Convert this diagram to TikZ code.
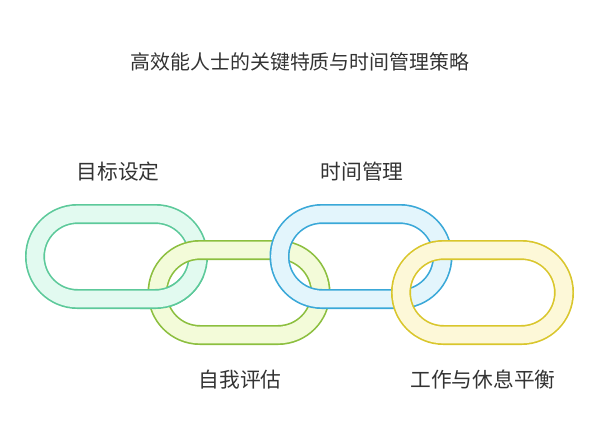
\documentclass[tikz,border=0pt]{standalone}
\usepackage{fontspec}
\setmainfont{Noto Sans CJK SC}
\definecolor{tealline}{HTML}{5CC99A}
\definecolor{tealfill}{HTML}{E2FAF0}
\definecolor{limeline}{HTML}{8CBF3F}
\definecolor{limefill}{HTML}{F3FBD9}
\definecolor{blueline}{HTML}{3AA8D8}
\definecolor{bluefill}{HTML}{E3F5FC}
\definecolor{goldline}{HTML}{D9C62C}
\definecolor{goldfill}{HTML}{FDF8D8}
\definecolor{textgray}{HTML}{333333}
% one chain link: centre x, centre y, outline colour, fill colour
\newcommand{\chainlink}[4]{%
  \draw[#3, line width=0.6cm, rounded corners=1.275cm]
    (#1-81.5,#2-42.5) rectangle (#1+81.5,#2+42.5);
  \draw[#4, line width=0.5cm, rounded corners=1.275cm]
    (#1-81.5,#2-42.5) rectangle (#1+81.5,#2+42.5);
}
\tikzset{
  label/.style={font=\fontsize{17.7}{21}\selectfont, text=textgray},
}
\begin{document}
\begin{tikzpicture}[x=0.03cm, y=-0.03cm]
    \useasboundingbox (0,0) rectangle (600,441);

    % 标题
    \node[font=\fontsize{17}{20}\selectfont, text=textgray] (title) at (300,62)
        {高效能人士的关键特质与时间管理策略};

    % 链环
    \chainlink{116.5}{256.5}{tealline}{tealfill}
    \chainlink{239}{292.5}{limeline}{limefill}
    % 第一环下沿压住第二环
    \begin{scope}
        \clip (140,276) rectangle (215,316);
        \chainlink{116.5}{256.5}{tealline}{tealfill}
    \end{scope}
    \chainlink{361}{256.5}{blueline}{bluefill}
    \chainlink{482.5}{292.5}{goldline}{goldfill}

    % 标签
    \node[label] (goal) at (118,172) {目标设定};
    \node[label] (time) at (362,172) {时间管理};
    \node[label] (self) at (240,380) {自我评估};
    \node[label] (rest) at (483,380) {工作与休息平衡};
\end{tikzpicture}
\end{document}
